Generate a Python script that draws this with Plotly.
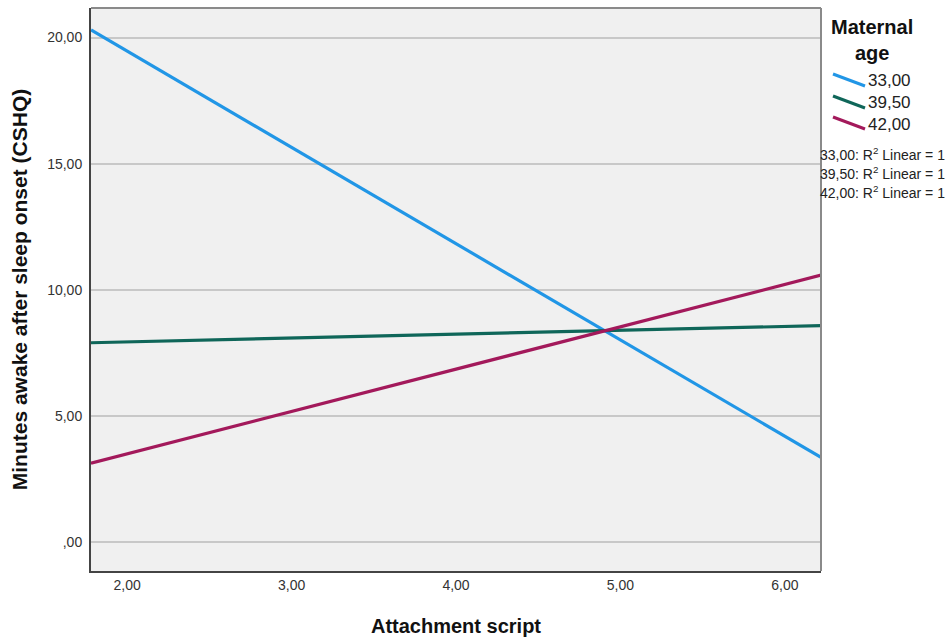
import plotly.graph_objects as go

# Fit lines of minutes awake on attachment script, by maternal age
x_ends = [1.78, 6.22]
age_labels = ["33,00", "39,50", "42,00"]
wake_33 = [20.30, 3.37]
wake_395 = [7.91, 8.59]
wake_42 = [3.14, 10.59]
series_values = [wake_33, wake_395, wake_42]
colors = ["#2196e6", "#0f6659", "#a3195b"]

x_tickvals = [2, 3, 4, 5, 6]
x_ticktext = ["2,00", "3,00", "4,00", "5,00", "6,00"]
y_tickvals = [0, 5, 10, 15, 20]
y_ticktext = [",00", "5,00", "10,00", "15,00", "20,00"]

W, H = 948, 638
ML, MR, MT, MB = 91, 127, 8, 67
PW, PH = W - ML - MR, H - MT - MB


def px(xp):
    return (xp - ML) / PW


def py(yp):
    return 1 - (yp - MT) / PH


FONT = "Liberation Sans, Arial, sans-serif"

fig = go.Figure()
for vals, col, lab in zip(series_values, colors, age_labels):
    fig.add_trace(go.Scatter(x=x_ends, y=vals, mode="lines", name=lab,
                             line=dict(color=col, width=3.2), showlegend=False,
                             cliponaxis=True))

shapes = [
    # top and right frame edges
    dict(type="line", xref="paper", yref="paper", x0=0, x1=1, y0=1, y1=1,
         line=dict(color="#8a8a8a", width=2)),
    dict(type="line", xref="paper", yref="paper", x0=1, x1=1, y0=0, y1=1,
         line=dict(color="#8a8a8a", width=2)),
]

annotations = [
    dict(text="<b>Maternal<br>age</b>", xref="paper", yref="paper",
         x=px(872), y=py(40), xanchor="center", yanchor="middle",
         showarrow=False, align="center",
         font=dict(family=FONT, size=20, color="#111111")),
]

# custom legend with slanted line keys
leg_y = [81, 103, 124]
for lab, col, yc in zip(age_labels, colors, leg_y):
    shapes.append(dict(type="line", xref="paper", yref="paper",
                       x0=px(833), x1=px(865), y0=py(yc - 7), y1=py(yc + 5),
                       line=dict(color=col, width=3)))
    annotations.append(dict(text=lab, xref="paper", yref="paper",
                            x=px(866), y=py(yc), xanchor="left", yanchor="middle",
                            showarrow=False,
                            font=dict(family=FONT, size=17, color="#222222")))

r2_y = [154, 173, 192]
for lab, yc in zip(age_labels, r2_y):
    annotations.append(dict(text=f"{lab}: R<sup>2</sup> Linear = 1", xref="paper", yref="paper",
                            x=px(818), y=py(yc), xanchor="left", yanchor="middle",
                            showarrow=False,
                            font=dict(family=FONT, size=14, color="#222222")))

fig.update_layout(
    width=W, height=H,
    margin=dict(l=ML, r=MR, t=MT, b=MB, autoexpand=False),
    paper_bgcolor="white",
    plot_bgcolor="#f0f0f0",
    shapes=shapes,
    annotations=annotations,
    xaxis=dict(range=x_ends, tickvals=x_tickvals, ticktext=x_ticktext,
               automargin=False,
               showgrid=False, zeroline=False, showline=True,
               linecolor="#444444", linewidth=2, ticks="",
               tickfont=dict(family=FONT, size=14, color="#333333"),
               title=dict(text="<b>Attachment script</b>", standoff=27,
                          font=dict(family=FONT, size=20, color="#111111"))),
    yaxis=dict(range=[-1.13, 21.17], tickvals=y_tickvals, ticktext=y_ticktext,
               automargin=False,
               showgrid=True, gridcolor="#c8c8c8", gridwidth=1.5,
               zeroline=False, showline=True, linecolor="#444444", linewidth=2,
               ticks="", ticklabelstandoff=4,
               tickfont=dict(family=FONT, size=14, color="#333333"),
               title=dict(text="<b>Minutes awake after sleep onset (CSHQ)</b>", standoff=14,
                          font=dict(family=FONT, size=21, color="#111111"))),
)

fig.write_html("out.html")
